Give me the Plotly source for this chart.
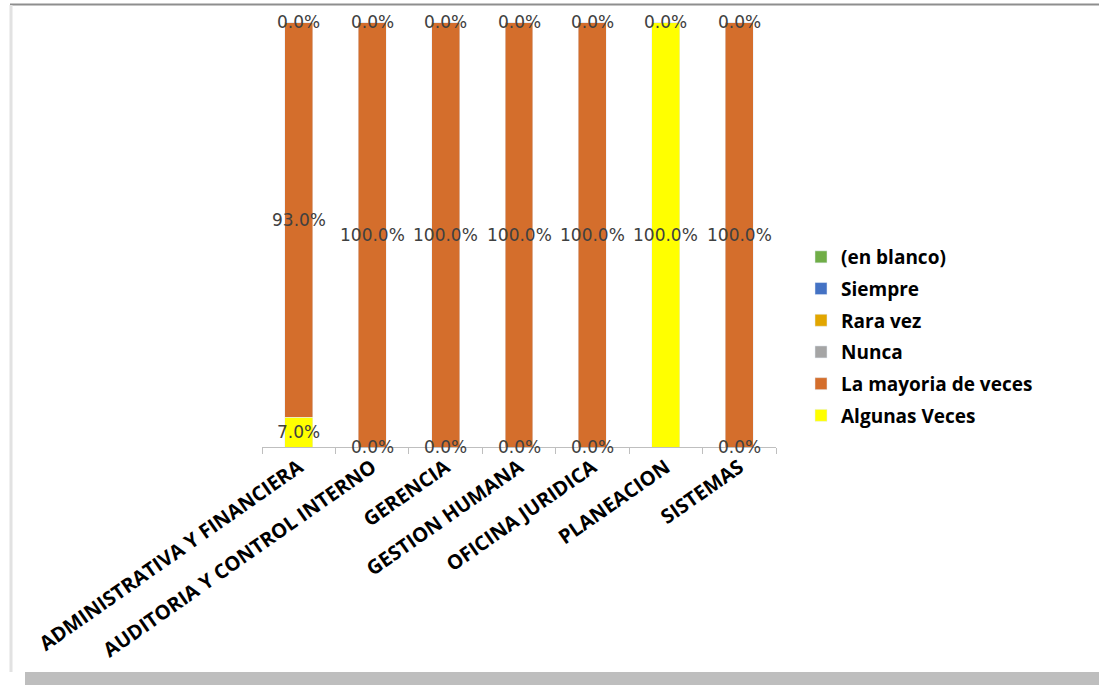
import plotly.graph_objects as go

categories = ["ADMINISTRATIVA Y FINANCIERA", "AUDITORIA Y CONTROL INTERNO", "GERENCIA",
              "GESTION HUMANA", "OFICINA JURIDICA", "PLANEACION", "SISTEMAS"]
algunas_veces = [0.07, 0.0, 0.0, 0.0, 0.0, 1.0, 0.0]
la_mayoria = [0.93, 1.0, 1.0, 1.0, 1.0, 0.0, 1.0]
nunca = [0.0, 0.0, 0.0, 0.0, 0.0, 0.0, 0.0]
rara_vez = [0.0, 0.0, 0.0, 0.0, 0.0, 0.0, 0.0]
siempre = [0.0, 0.0, 0.0, 0.0, 0.0, 0.0, 0.0]
en_blanco = [0.0, 0.0, 0.0, 0.0, 0.0, 0.0, 0.0]

series = [
    ("Algunas Veces", algunas_veces, "#FFFF00"),
    ("La mayoria de veces", la_mayoria, "#D46E2C"),
    ("Nunca", nunca, "#A5A5A5"),
    ("Rara vez", rara_vez, "#E2A600"),
    ("Siempre", siempre, "#4472C4"),
    ("(en blanco)", en_blanco, "#70AD47"),
]
labeled = {"Algunas Veces", "La mayoria de veces"}

W, H = 1099, 685
L, R, T, B = 262, 776, 22, 447

fig = go.Figure()
cum = [0.0] * len(categories)
annotations = []
for i, (name, vals, color) in enumerate(series):
    fig.add_trace(go.Bar(x=categories, y=vals, name=name, marker_color=color,
                         width=0.38, legendgroup=f"g{i}", legendrank=100 - i))
    if name in labeled:
        for j, v in enumerate(vals):
            mid = cum[j] + v / 2
            annotations.append(dict(x=categories[j], y=mid, xref="x", yref="y",
                                    text=f"{v*100:.1f}%", showarrow=False,
                                    font=dict(family="DejaVu Sans", size=17, color="#404040")))
    cum = [c + v for c, v in zip(cum, vals)]

# labels of the remaining (empty) series sit on top of each stack
rest_total = [a + b + c for a, b, c in zip(nunca, rara_vez, siempre)]
for j, v in enumerate(rest_total):
    if la_mayoria[j] > 0:
        annotations.append(dict(x=categories[j], y=cum[j] - v / 2, xref="x", yref="y",
                                text=f"{nunca[j]*100:.1f}%", showarrow=False,
                                font=dict(family="DejaVu Sans", size=17, color="#404040")))

def px_x(p):
    return (p - L) / (R - L)

def px_y(p):
    return (B - p) / (B - T)

shapes = [
    dict(type="line", xref="paper", yref="paper", x0=px_x(10), x1=px_x(1099),
         y0=px_y(4.5), y1=px_y(4.5), line=dict(color="#8E8E8E", width=2)),
    dict(type="line", xref="paper", yref="paper", x0=px_x(11), x1=px_x(11),
         y0=px_y(5), y1=px_y(672), line=dict(color="#E2E2E2", width=3)),
    dict(type="rect", xref="paper", yref="paper", x0=px_x(25), x1=px_x(1099),
         y0=px_y(685), y1=px_y(672), line=dict(width=0), fillcolor="#BEBEBE"),
]

fig.update_layout(
    width=W, height=H,
    margin=dict(l=L, r=W - R, t=T, b=H - B, autoexpand=False),
    barmode="stack",
    plot_bgcolor="white", paper_bgcolor="white",
    showlegend=True,
    legend=dict(x=px_x(801), y=px_y(238), xanchor="left", yanchor="top",
                traceorder="grouped", tracegroupgap=4,
                font=dict(family="Open Sans", size=19, color="#000000", weight="bold"),
                bgcolor="rgba(0,0,0,0)"),
    xaxis=dict(showline=True, linecolor="#BFBFBF", linewidth=1,
               ticks="outside", tickson="boundaries", ticklen=6, tickcolor="#BFBFBF",
               tickangle=-35,
               tickfont=dict(family="Open Sans", size=20, color="#000000", weight="bold"),
               showgrid=False),
    yaxis=dict(range=[0, 1], visible=False, showgrid=False),
    annotations=annotations,
    shapes=shapes,
    font=dict(family="Open Sans"),
)

fig.write_html("out.html")
